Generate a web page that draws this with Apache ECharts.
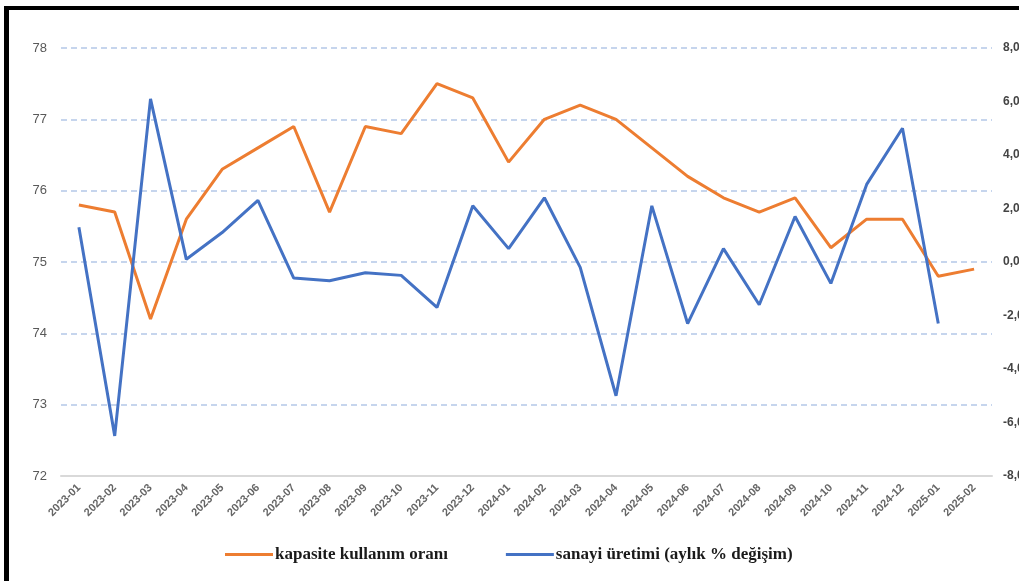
<!DOCTYPE html>
<html>
<head>
<meta charset="utf-8">
<script src="https://cdn.jsdelivr.net/npm/echarts@6/dist/echarts.min.js"></script>
<style>
  html, body { margin: 0; padding: 0; background: #fff; overflow: hidden; }
  #frame { position: absolute; left: 4px; top: 6px; width: 1100px; height: 700px;
           border-left: 5px solid #000; border-top: 4px solid #000; box-sizing: border-box; pointer-events: none; z-index: 2; }
  #chart { position: absolute; left: 0; top: 0; width: 1019px; height: 581px; }
</style>
</head>
<body>
<div id="chart"></div>
<div id="frame"></div>
<script>
// Aylar
const months = [
  '2023-01','2023-02','2023-03','2023-04','2023-05','2023-06','2023-07','2023-08','2023-09','2023-10','2023-11','2023-12',
  '2024-01','2024-02','2024-03','2024-04','2024-05','2024-06','2024-07','2024-08','2024-09','2024-10','2024-11','2024-12',
  '2025-01','2025-02'
];
// Kapasite kullanım oranı (%), sol eksen
const capacityUse = [
  75.8, 75.7, 74.2, 75.6, 76.3, 76.6, 76.9, 75.7, 76.9, 76.8, 77.5, 77.3,
  76.4, 77.0, 77.2, 77.0, 76.6, 76.2, 75.9, 75.7, 75.9, 75.2, 75.6, 75.6,
  74.8, 74.9
];
// Sanayi üretimi, aylık % değişim, sağ eksen
const industrialProd = [
  1.3, -6.5, 6.1, 0.1, 1.1, 2.3, -0.6, -0.7, -0.4, -0.5, -1.7, 2.1,
  0.5, 2.4, -0.2, -5.0, 2.1, -2.3, 0.5, -1.6, 1.7, -0.8, 2.9, 5.0,
  -2.3, null
];
const seriesNames = ['kapasite kullanım oranı', 'sanayi üretimi (aylık % değişim)'];

const chart = echarts.init(document.getElementById('chart'), null, { renderer: 'canvas' });
const axisText = { color: '#595959', fontFamily: 'Liberation Sans, Arial, sans-serif' };

chart.setOption({
  animation: false,
  backgroundColor: '#fff',
  grid: { left: 61, right: 27, top: 48, bottom: 105, containLabel: false, outerBoundsMode: 'none' },
  legend: {
    left: 220, top: 541,
    itemWidth: 48, itemHeight: 3, itemGap: 58,
    icon: 'rect',
    textStyle: { fontFamily: 'Liberation Serif, serif', fontWeight: 'bold', fontSize: 17, color: '#1a1a1a', padding: [0, 0, 0, -3] },
    data: seriesNames
  },
  xAxis: {
    type: 'category',
    data: months,
    boundaryGap: true,
    axisLine: { onZero: false, lineStyle: { color: '#d9d9d9', width: 2 } },
    axisTick: { show: false },
    axisLabel: { ...axisText, rotate: 45, fontSize: 11, fontWeight: 'bold', margin: 10, interval: 0, color: '#666' }
  },
  yAxis: [
    {
      type: 'value', min: 72, max: 78, interval: 1, position: 'left',
      axisLine: { show: false }, axisTick: { show: false },
      axisLabel: { ...axisText, fontSize: 13, margin: 14 },
      splitLine: { show: true, lineStyle: { color: '#b4c7e7', type: [6, 4], width: 1.5 } }
    },
    {
      type: 'value', min: -8, max: 8, interval: 2, position: 'right',
      axisLine: { show: false }, axisTick: { show: false },
      axisLabel: { ...axisText, fontSize: 12, fontWeight: 'bold', margin: 11, color: '#444',
                   formatter: v => v.toFixed(2).replace('.', ',') },
      splitLine: { show: false }
    }
  ],
  series: [
    {
      name: seriesNames[0], type: 'line', yAxisIndex: 0, data: capacityUse,
      symbol: 'none', color: '#ed7d31', lineStyle: { width: 3, color: '#ed7d31' }, z: 3
    },
    {
      name: seriesNames[1], type: 'line', yAxisIndex: 1, data: industrialProd,
      symbol: 'none', color: '#4472c4', lineStyle: { width: 3, color: '#4472c4' }, z: 4
    }
  ]
});
</script>
</body>
</html>
